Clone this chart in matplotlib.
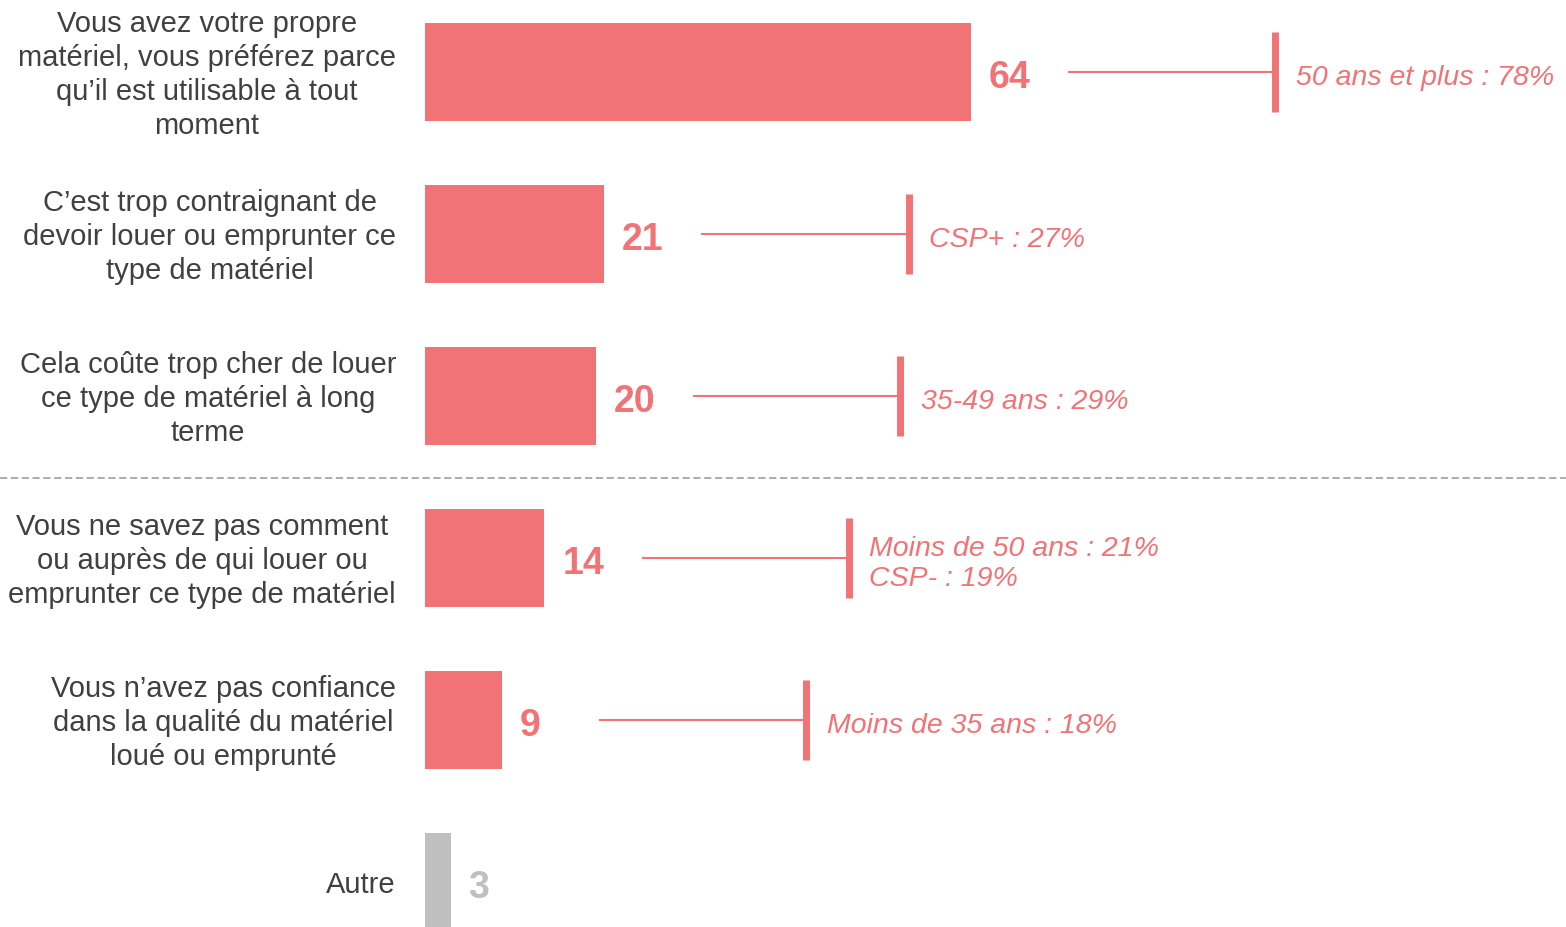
import matplotlib.pyplot as plt
from matplotlib.lines import Line2D

# data
categories = [
    "Vous avez votre propre\nmatériel, vous préférez parce\nqu\u2019il est utilisable à tout\nmoment",
    "C\u2019est trop contraignant de\ndevoir louer ou emprunter ce\ntype de matériel",
    "Cela coûte trop cher de louer\nce type de matériel à long\nterme",
    "Vous ne savez pas comment\nou auprès de qui louer ou\nemprunter ce type de matériel",
    "Vous n\u2019avez pas confiance\ndans la qualité du matériel\nloué ou emprunté",
    "Autre",
]
values = [64, 21, 20, 14, 9, 3]
callouts = [
    "50 ans et plus : 78%",
    "CSP+ : 27%",
    "35-49 ans : 29%",
    "Moins de 50 ans : 21%\nCSP- : 19%",
    "Moins de 35 ans : 18%",
    None,
]

PINK = "#F27376"
GREY = "#BFBFBF"
TEXT = "#404040"


def main():
    plt.rcParams['font.family'] = ['Liberation Sans', 'DejaVu Sans']
    fig = plt.figure(figsize=(15.66, 9.28), dpi=100)
    left = 425 / 1566
    ax = fig.add_axes([left, 0, 1 - left, 1])
    ax.set_xlim(0, 1141 / 8.53)
    ax.set_ylim(5 + 45 / 162, -73 / 162)
    ax.axis('off')

    ypos = list(range(len(values)))
    colors = [PINK] * (len(values) - 1) + [GREY]
    ax.barh(ypos, values, height=0.605, color=colors)

    for y, v, c, note, cat in zip(ypos, values, colors, callouts, categories):
        ax.text(v + 2.1, y + 0.03, str(v), color=c, fontsize=27, fontweight='bold',
                va='center', ha='left')
        # category label: block right-aligned, lines centered
        fig.text(396 / 1566, 1 - (75 + 162 * y) / 928, cat, color=TEXT,
                 fontsize=21, ha='right', va='center', multialignment='center',
                 linespacing=1.28)
        if note is None:
            continue
        start = v + 11.4
        tick = start + 24.3
        ax.plot([start, tick], [y, y], color=PINK, lw=1.5, solid_capstyle='butt')
        ax.plot([tick, tick], [y - 0.245, y + 0.245], color=PINK, lw=5,
                solid_capstyle='butt')
        ax.text(tick + 2.4, y + 0.03, note, color=PINK, fontsize=20.5,
                style='italic', va='center', ha='left', linespacing=1.2)

    # separator between the top three and the rest
    ysep = 1 - 479 / 928
    fig.add_artist(Line2D([0, 1], [ysep, ysep], color="#A6A6A6", lw=1.3,
                          linestyle=(0, (4, 2)), transform=fig.transFigure))

    fig.savefig("out.png", dpi=100)


if __name__ == "__main__":
    main()
